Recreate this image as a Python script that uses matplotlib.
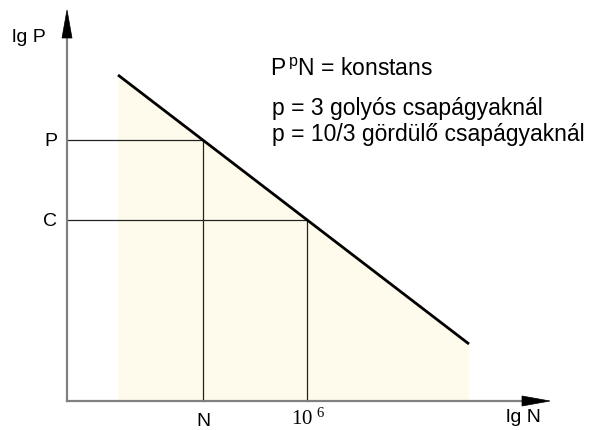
import matplotlib
matplotlib.use("Agg")
import matplotlib.pyplot as plt
from matplotlib.patches import Polygon

# Load-life line in log-log coordinates (arbitrary units)
line_lgN = [5.1, 40.2]
line_lgP = [32.6, 5.7]

# Marked points on the line: (N, P) and (10^6, C)
mark_lgN = [13.6, 24.0]
mark_lgP = [26.1, 18.1]
mark_xlabels = ["N", r"$\mathregular{10^{\ 6}}$"]
mark_ylabels = ["P", "C"]

x_axis_end = 48.3
y_axis_end = 39.1

fig = plt.figure(figsize=(6.0, 4.3), dpi=100)
ax = fig.add_axes([0, 0, 1, 1])
ax.set_xlim(-6.7, 53.3)
ax.set_ylim(-2.9, 40.1)
ax.axis("off")

# shaded region under the line
poly = Polygon([(line_lgN[0], 0), (line_lgN[0], line_lgP[0]),
                (line_lgN[1], line_lgP[1]), (line_lgN[1], 0)],
               closed=True, facecolor="#fffbec", edgecolor="none", zorder=1)
ax.add_patch(poly)

# main line
ax.plot(line_lgN, line_lgP, color="black", lw=2.0, zorder=4,
        solid_capstyle="butt")

# guide lines to the axes
for xv, yv in zip(mark_lgN, mark_lgP):
    ax.plot([0, xv], [yv, yv], color="#222222", lw=0.9, zorder=3)
    ax.plot([xv, xv], [0, yv], color="#222222", lw=0.9, zorder=3)

# axes with arrow heads
ax.plot([0, x_axis_end - 2.8], [0, 0], color="#808080", lw=1.6, zorder=3)
ax.plot([0, 0], [0, y_axis_end - 2.8], color="#808080", lw=1.6, zorder=3)
ax.add_patch(Polygon([(x_axis_end - 2.8, 0.5), (x_axis_end, 0),
                      (x_axis_end - 2.8, -0.5)], closed=True,
                     facecolor="black", edgecolor="black", lw=0.5, zorder=5))
ax.add_patch(Polygon([(-0.5, y_axis_end - 2.8), (0, y_axis_end),
                      (0.5, y_axis_end - 2.8)], closed=True,
                     facecolor="black", edgecolor="black", lw=0.5, zorder=5))

sans = "Liberation Sans"
ax.text(-5.5, 36.3, "lg P", fontsize=14, family=sans, va="center", ha="left")
ax.text(43.9, -1.6, "lg N", fontsize=14, family=sans, va="center", ha="left")

for yv, lab in zip(mark_lgP, mark_ylabels):
    ax.text(-1.0, yv - 0.1, lab, fontsize=14, family=sans,
            va="center", ha="right")
ax.text(mark_lgN[0], -2.0, mark_xlabels[0], fontsize=14, family=sans,
        va="center", ha="center")
ax.text(mark_lgN[1] + 0.1, -1.8, mark_xlabels[1], fontsize=15,
        family="Liberation Serif", va="center", ha="center")

ax.text(20.3, 33.1, r"P$^{\mathregular{\,p}}$N = konstans", fontsize=16.5,
        family=sans, va="center", ha="left")
ax.text(20.5, 29.3, "p = 3 golyós csapágyaknál", fontsize=16.5,
        family=sans, va="center", ha="left")
ax.text(20.5, 26.6, "p = 10/3 gördülő csapágyaknál", fontsize=16.5,
        family=sans, va="center", ha="left")

fig.savefig("out.png", dpi=100)
